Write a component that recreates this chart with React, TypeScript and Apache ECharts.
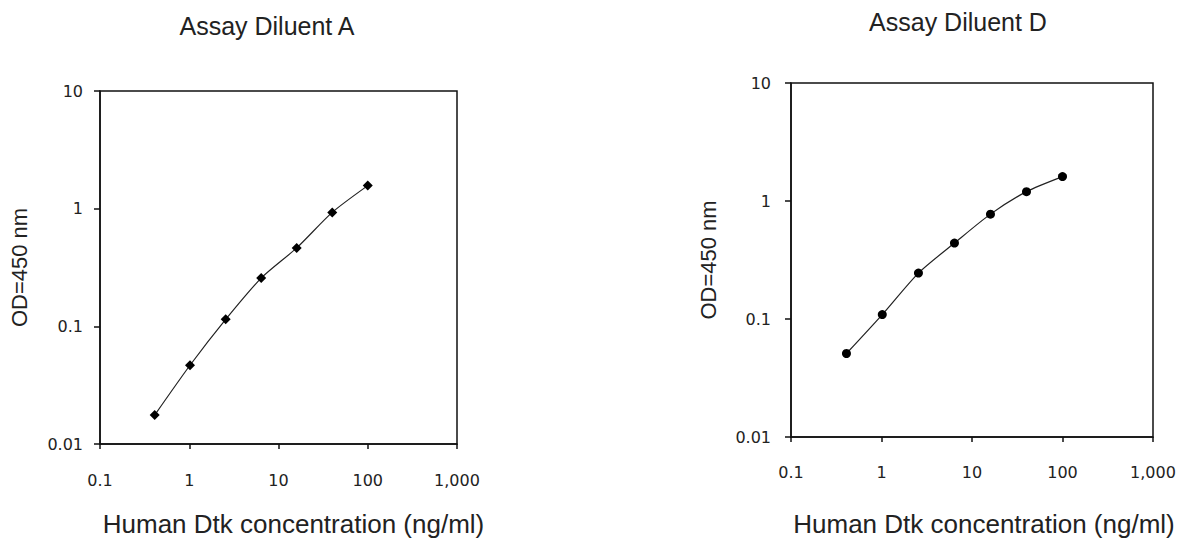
import React, { useEffect, useRef } from "react";
import * as echarts from "echarts";

// Data
const concentrations = [0.41, 1.02, 2.56, 6.4, 16, 40, 100];
const odDiluentA = [0.0176, 0.0467, 0.1146, 0.257, 0.464, 0.93, 1.57];
const odDiluentD = [0.051, 0.109, 0.245, 0.44, 0.774, 1.2, 1.61];
const xTickLabels = ["0.1", "1", "10", "100", "1,000"];
const yTickLabels = ["0.01", "0.1", "1", "10"];
const titles = ["Assay Diluent A", "Assay Diluent D"];
const xAxisName = "Human Dtk concentration (ng/ml)";
const yAxisName = "OD=450 nm";

const TXT = "#222";
const LINE = "#111";
const SANS = "'Liberation Sans', Arial, sans-serif";
const TICKFONT = "'DejaVu Sans', Verdana, sans-serif";

function xFmt(v: number) {
  const i = Math.round(Math.log10(v)) + 1;
  return xTickLabels[i] ?? String(v);
}
function yFmt(v: number) {
  const i = Math.round(Math.log10(v)) + 2;
  return yTickLabels[i] ?? String(v);
}

export default function App() {
  const ref = useRef<HTMLDivElement>(null);
  useEffect(() => {
    if (!ref.current) return;
    const chart = echarts.init(ref.current, undefined, { renderer: "svg" });
    const grids = [
      { left: 100, top: 91, width: 357, height: 356 },
      { left: 791, top: 83, width: 362, height: 360 },
    ];
    const xGaps = [67, 74];
    const xNamePad = [30, 24];
    const xMargins = [28, 27];
    const yGaps = [70, 72];
    const yMargins = [17, 20];
    const series = [odDiluentA, odDiluentD];
    const symbols = ["diamond", "circle"];
    const symbolSizes = [10, 9];
    const titleCenters = [
      [267, 26],
      [958, 22],
    ];
    chart.setOption({
      animation: false,
      backgroundColor: "#fff",
      grid: grids.map((g) => ({
        ...g,
        show: true,
        borderColor: LINE,
        borderWidth: 1.5,
        containLabel: false,
      })),
      xAxis: grids.map((_, k) => ({
        type: "log",
        logBase: 10,
        gridIndex: k,
        min: 0.1,
        max: 1000,
        axisLine: { show: true, lineStyle: { color: LINE, width: 1.5 } },
        axisTick: { show: true, inside: false, length: 5, lineStyle: { color: LINE, width: 1.5 } },
        minorTick: { show: false },
        splitLine: { show: false },
        axisLabel: {
          margin: xMargins[k],
          fontFamily: TICKFONT,
          fontSize: 16,
          color: TXT,
          showMinLabel: true,
          showMaxLabel: true,
          formatter: (v: number) => xFmt(v),
        },
        name: xAxisName,
        nameLocation: "middle",
        nameGap: xGaps[k],
        nameTextStyle: {
          fontFamily: SANS,
          fontSize: 26,
          color: TXT,
          padding: [0, 0, 0, xNamePad[k]],
        },
      })),
      yAxis: grids.map((_, k) => ({
        type: "log",
        logBase: 10,
        gridIndex: k,
        min: 0.01,
        max: 10,
        axisLine: { show: true, lineStyle: { color: LINE, width: 1.5 } },
        axisTick: { show: true, inside: false, length: 6, lineStyle: { color: LINE, width: 1.5 } },
        minorTick: { show: false },
        splitLine: { show: false },
        axisLabel: {
          margin: yMargins[k],
          fontFamily: TICKFONT,
          fontSize: 16,
          color: TXT,
          showMinLabel: true,
          showMaxLabel: true,
          formatter: (v: number) => yFmt(v),
        },
        name: yAxisName,
        nameLocation: "middle",
        nameGap: yGaps[k],
        nameRotate: 90,
        nameTextStyle: { fontFamily: SANS, fontSize: 22, color: TXT },
      })),
      series: series.map((ys, k) => ({
        type: "line",
        xAxisIndex: k,
        yAxisIndex: k,
        data: concentrations.map((x, i) => [x, ys[i]]),
        smooth: 0.25,
        symbol: symbols[k],
        symbolSize: symbolSizes[k],
        itemStyle: { color: "#000" },
        lineStyle: { color: "#222", width: 1.2 },
      })),
      graphic: titles.map((t, k) => ({
        type: "text",
        x: titleCenters[k][0],
        y: titleCenters[k][1],
        style: {
          text: t,
          fontFamily: SANS,
          fontSize: 25,
          fill: TXT,
          textAlign: "center",
          textVerticalAlign: "middle",
        },
      })),
    });
    return () => chart.dispose();
  }, []);
  return (
    <div
      ref={ref}
      style={{ position: "fixed", left: 0, top: 0, width: 1185, height: 542 }}
    />
  );
}
